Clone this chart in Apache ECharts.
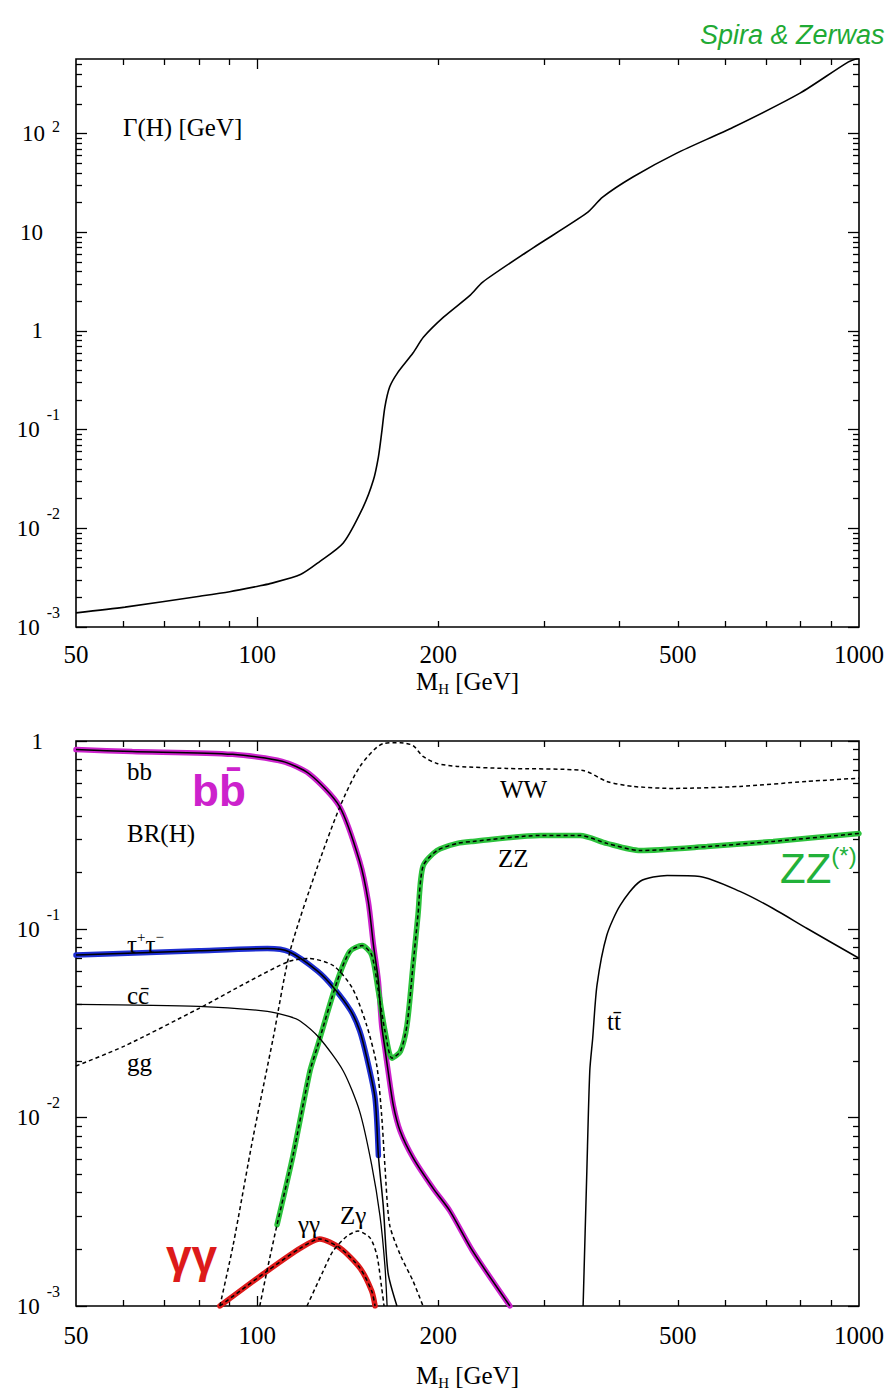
<!DOCTYPE html>
<html><head><meta charset="utf-8">
<script src="https://cdn.jsdelivr.net/npm/echarts@6/dist/echarts.min.js"></script>
<style>html,body{margin:0;padding:0;background:#fff}#c{width:889px;height:1391px}</style>
</head><body><div id="c"></div>
<script>
// ---------- Top panel: total Higgs width Γ(H) [GeV] ----------
const mhTot  = [50, 60.3, 80.3, 90, 100.6, 105, 118, 127, 139, 150, 156, 159, 161, 163, 166, 171, 181.5, 189, 204, 226, 237, 287, 353, 375, 421, 498, 618, 798, 959, 1000];
const gamTot = [1.39e-3, 1.59e-3, 2.05e-3, 2.28e-3, 2.6e-3, 2.75e-3, 3.4e-3, 4.6e-3, 7.1e-3, 0.0164, 0.0308, 0.0527, 0.0925, 0.169, 0.27, 0.374, 0.597, 0.867, 1.38, 2.31, 3.13, 6.92, 15.7, 22.7, 36.3, 63.4, 116, 257, 530, 582];

// ---------- Bottom panel: branching ratios BR(H) ----------
const mhBB  = [50, 62, 91, 110, 122, 137, 148, 153, 156, 159, 161, 163, 165, 168.4, 172.8, 181.7, 196.2, 209, 228, 263];
const brBB  = [0.90, 0.88, 0.85, 0.78, 0.67, 0.45, 0.23, 0.14, 0.083, 0.053, 0.031, 0.0234, 0.0177, 0.0116, 0.0085, 0.0061, 0.0042, 0.0032, 0.00196, 0.001];
const mhTau = [50, 80, 104, 113, 126, 134, 143, 148, 152, 157, 159, 162, 165, 170.7];
const brTau = [0.073, 0.077, 0.079, 0.076, 0.060, 0.049, 0.037, 0.029, 0.021, 0.0127, 0.0063, 0.0034, 0.0015, 0.001];
const tauHighlightEnd = 159;
const mhCC  = [50, 80, 104, 113, 118, 127, 139, 148, 155, 160, 163, 164.4];
const brCC  = [0.040, 0.039, 0.0367, 0.0345, 0.0325, 0.0264, 0.0177, 0.0108, 0.0056, 0.0030, 0.00165, 0.001];
const mhGG  = [50, 60, 80, 97, 113, 122, 134, 144, 152, 158, 161, 163, 166, 173, 181.5, 188.6];
const brGG  = [0.0188, 0.0239, 0.038, 0.053, 0.0676, 0.070, 0.064, 0.0486, 0.031, 0.019, 0.0103, 0.0056, 0.0027, 0.00186, 0.00136, 0.001];
const mhWW  = [86.7, 91.2, 98.4, 106.3, 113.4, 125.7, 137.3, 148.2, 162, 173, 181.5, 188.6, 199, 215, 260, 348, 381, 421, 491, 634, 820, 1000];
const brWW  = [0.001, 0.0021, 0.0078, 0.0264, 0.0764, 0.211, 0.449, 0.733, 0.97, 0.98, 0.946, 0.828, 0.76, 0.733, 0.715, 0.697, 0.61, 0.574, 0.56, 0.574, 0.61, 0.635];
const mhZZ  = [101, 103.8, 107.9, 114.7, 122.4, 125.7, 135.8, 142.6, 149.4, 155, 159, 163, 167.5, 173, 177.4, 181.5, 185, 188.6, 199, 215, 228, 295, 344, 381, 433, 559, 720, 1000];
const brZZ  = [0.001, 0.00153, 0.0027, 0.0063, 0.0177, 0.0234, 0.053, 0.0764, 0.082, 0.073, 0.047, 0.029, 0.0207, 0.0225, 0.031, 0.064, 0.119, 0.216, 0.262, 0.286, 0.293, 0.315, 0.315, 0.286, 0.262, 0.275, 0.293, 0.323];
const zzHighlightStart = 107.9;
const mhTT  = [348, 353, 357, 361, 367, 381, 401, 433, 480, 544, 634, 720, 820, 1000];
const brTT  = [0.001, 0.0052, 0.0177, 0.0264, 0.0505, 0.093, 0.134, 0.18, 0.193, 0.191, 0.159, 0.129, 0.101, 0.0702];
const mhGA  = [86.7, 103.8, 118, 127, 137.3, 148.2, 155, 157];
const brGA  = [0.001, 0.00153, 0.00203, 0.00227, 0.00203, 0.00159, 0.0012, 0.001];
const mhZA  = [121, 128.7, 133.7, 141, 147.1, 154, 158.1, 161, 162.5];
const brZA  = [0.001, 0.00153, 0.00196, 0.00235, 0.0025, 0.0023, 0.00186, 0.00125, 0.001];

// ---------- ticks and labels ----------
const xLabelVals  = [50, 100, 200, 500, 1000];
const xMinorTicks = [60, 70, 80, 90, 200, 300, 400, 500, 600, 700, 800, 900];
const xMajorTicks = [100];
const yDecTop = [0.001, 0.01, 0.1, 1, 10, 100];
const yDecBot = [0.001, 0.01, 0.1, 1];
const mantissas = [2, 3, 4, 5, 6, 7, 8, 9];
const yMaxTop = 570, yMaxBot = 1;

// ---------- build ----------
const SERIF = "'Liberation Serif','Times New Roman',serif";
const HAND = "'Liberation Sans',sans-serif";
const minorOf = (decs, max) => decs.flatMap(d => mantissas.map(m => +(m * d).toPrecision(3))).filter(v => v < max);
const pairs = (xs, ys) => xs.map((x, i) => [x, ys[i]]);
const tickStyle = {color: '#000', width: 1.3};

const yRich = {
  b: {fontFamily: SERIF, fontSize: 23, lineHeight: 46, color: '#000'},
  s: {fontFamily: SERIF, fontSize: 16, lineHeight: 16, color: '#000', verticalAlign: 'top', padding: [0, 0, 0, 7]},
  u: {fontFamily: SERIF, fontSize: 16, lineHeight: 16, color: '#000', verticalAlign: 'top', padding: [8, 0, 0, 7]},
  p: {fontFamily: SERIF, fontSize: 23, lineHeight: 46, width: 17}
};
function yFmt(v) {
  const e = Math.round(Math.log10(v));
  if (e === 0) return '{b|1}{p| }';
  if (e === 1) return '{b|10}{p| }';
  return '{b|10}{' + (e > 0 ? 'u' : 's') + '|' + e + '}';
}
const nameRich = {
  m: {fontFamily: SERIF, fontSize: 25, lineHeight: 30, color: '#000'},
  h: {fontFamily: SERIF, fontSize: 15, lineHeight: 15, color: '#000', verticalAlign: 'bottom'},
};

function xAxes(g, labelMargin, nameGap) {
  const base = {gridIndex: g, type: 'log', logBase: 10, min: 50, max: 1000,
    axisLine: {show: false, onZero: false}, splitLine: {show: false}, axisLabel: {show: false}};
  return [
    Object.assign({}, base, {position: 'bottom',
      axisTick: {show: true, inside: true, length: 6, customValues: xMinorTicks, lineStyle: tickStyle},
      axisLabel: {show: true, customValues: xLabelVals, margin: labelMargin, formatter: v => String(Math.round(v)),
        fontFamily: SERIF, fontSize: 25, color: '#000'},
      name: '{m|M}{h|H}{m| [GeV]}', nameLocation: 'middle', nameGap: nameGap,
      nameTextStyle: {fontFamily: SERIF, fontSize: 25, rich: nameRich}}),
    Object.assign({}, base, {position: 'bottom',
      axisTick: {show: true, inside: true, length: 10, customValues: xMajorTicks, lineStyle: tickStyle}}),
    Object.assign({}, base, {position: 'top',
      axisTick: {show: true, inside: true, length: 6, customValues: xMinorTicks, lineStyle: tickStyle}}),
    Object.assign({}, base, {position: 'top',
      axisTick: {show: true, inside: true, length: 10, customValues: xMajorTicks, lineStyle: tickStyle}})
  ];
}
function yAxes(g, decs, max) {
  const minor = minorOf(decs, max);
  const base = {gridIndex: g, type: 'log', logBase: 10, min: 0.001, max: max,
    axisLine: {show: false, onZero: false}, splitLine: {show: false}, axisLabel: {show: false}};
  return [
    Object.assign({}, base, {position: 'left',
      axisTick: {show: true, inside: true, length: 6, customValues: minor, lineStyle: tickStyle},
      axisLabel: {show: true, customValues: decs, margin: 16, formatter: yFmt, rich: yRich,
        fontFamily: SERIF, fontSize: 23, color: '#000'}}),
    Object.assign({}, base, {position: 'left',
      axisTick: {show: true, inside: true, length: 11, customValues: decs, lineStyle: tickStyle}}),
    Object.assign({}, base, {position: 'right',
      axisTick: {show: true, inside: true, length: 6, customValues: minor, lineStyle: tickStyle}}),
    Object.assign({}, base, {position: 'right',
      axisTick: {show: true, inside: true, length: 11, customValues: decs, lineStyle: tickStyle}})
  ];
}
function line(g, data, style, z) {
  return {type: 'line', xAxisIndex: g * 4, yAxisIndex: g * 4, data: data, showSymbol: false, symbol: 'none',
    smooth: 0.25, lineStyle: style, z: z, silent: true, animation: false, clip: true};
}
const DASH = [4, 3];
const solid = {color: '#000', width: 1.5, type: 'solid'};
const dashed = {color: '#000', width: 1.5, type: DASH};
const hl = c => ({color: c, width: 5.5, type: 'solid', cap: 'round'});
const MAG = '#cc22cc', BLUE = '#1e2ed2', GREEN = '#2cc23c', RED = '#dd1a1a';

const series = [
  line(0, pairs(mhTot, gamTot), {color: '#000', width: 1.6}, 5),
  // highlights (hand drawn colours)
  line(1, pairs(mhBB, brBB), hl(MAG), 2),
  line(1, pairs(mhTau, brTau).filter(p => p[0] <= tauHighlightEnd), hl(BLUE), 2),
  line(1, pairs(mhZZ, brZZ).filter(p => p[0] >= zzHighlightStart), hl(GREEN), 2),
  line(1, pairs(mhGA, brGA), hl(RED), 2),
  // printed curves
  line(1, pairs(mhBB, brBB), solid, 5),
  line(1, pairs(mhTau, brTau), solid, 5),
  line(1, pairs(mhCC, brCC), {color: '#000', width: 1.3}, 5),
  line(1, pairs(mhTT, brTT), solid, 5),
  line(1, pairs(mhGG, brGG), dashed, 5),
  line(1, pairs(mhWW, brWW), dashed, 5),
  line(1, pairs(mhZZ, brZZ), dashed, 5),
  line(1, pairs(mhGA, brGA), dashed, 5),
  line(1, pairs(mhZA, brZA), dashed, 5)
];

function T(text, x, y, style) {
  return {type: 'text', x: x, y: y, z: 100, silent: true,
    style: Object.assign({text: text, fill: '#000', fontFamily: SERIF, fontSize: 25, align: 'left', verticalAlign: 'middle'}, style || {})};
}
const supRich = {
  t: {fontFamily: SERIF, fontSize: 25, lineHeight: 30, fill: '#000'},
  s: {fontFamily: SERIF, fontSize: 15, lineHeight: 15, fill: '#000', verticalAlign: 'top'}
};
const graphic = [
  T('Spira & Zerwas', 700, 35, {fontFamily: HAND, fontSize: 27, fontStyle: 'italic', fill: '#1faa35'}),
  T('Γ(H) [GeV]', 123, 127),
  T('bb', 127, 771),
  T('BR(H)', 127, 833),
  T('{t|τ}{s|+}{t|τ}{s|−}', 127, 944, {rich: supRich}),
  T('cc\u0304', 127, 995),
  T('gg', 127, 1062),
  T('WW', 500, 789),
  T('ZZ', 498, 858),
  T('tt\u0304', 607, 1021),
  T('γγ', 298, 1224),
  T('Zγ', 340, 1215),
  // hand-written annotations
  T('bb\u0304', 192, 790, {fontFamily: HAND, fontSize: 44, fontWeight: 'bold', fill: MAG}),
  T('{z|ZZ}{s|(*)}', 780, 868, {rich: {
    z: {fontFamily: HAND, fontSize: 42, lineHeight: 50, fill: '#22b13a'},
    s: {fontFamily: HAND, fontSize: 24, lineHeight: 24, fill: '#22b13a', verticalAlign: 'top'}}}),
  T('γγ', 166, 1256, {fontFamily: HAND, fontSize: 46, fontWeight: 'bold', fill: RED})
];

const frame = {show: true, borderColor: '#000', borderWidth: 1.6, backgroundColor: 'transparent'};
const option = {
  animation: false,
  backgroundColor: '#fff',
  grid: [
    Object.assign({left: 76, top: 59, width: 783, height: 568}, frame),
    Object.assign({left: 76, top: 741, width: 783, height: 567}, frame)
  ],
  xAxis: xAxes(0, 15, 39).concat(xAxes(1, 17, 54)),
  yAxis: yAxes(0, yDecTop, yMaxTop).concat(yAxes(1, yDecBot, yMaxBot)),
  series: series,
  graphic: graphic
};
const chart = echarts.init(document.getElementById('c'), null, {renderer: 'svg'});
chart.setOption(option);
</script></body></html>
